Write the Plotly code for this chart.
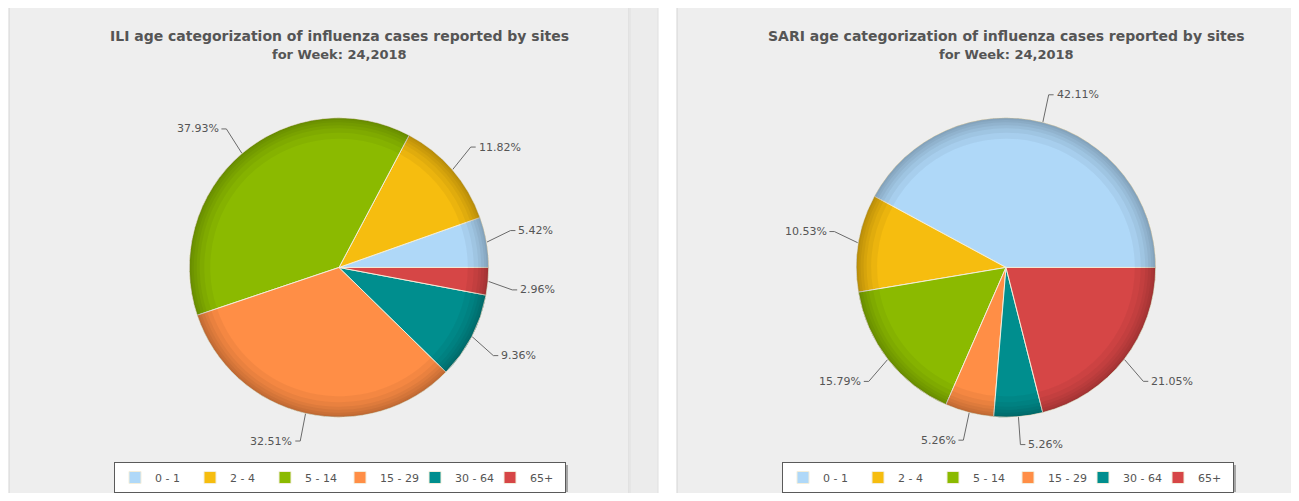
"""
Influenza age categorisation, week 24 2018: ILI and SARI pies side by side.
"""
import numpy as np
import plotly.graph_objects as go

# ---- Data ----
age_groups = ['0 - 1', '2 - 4', '5 - 14', '15 - 29', '30 - 64', '65+']
ili_share = [5.42, 11.82, 37.93, 32.51, 9.36, 2.96]
sari_share = [42.11, 10.53, 15.79, 5.26, 5.26, 21.05]
ili_title = 'ILI age categorization of influenza cases reported by sites'
sari_title = 'SARI age categorization of influenza cases reported by sites'
week_label = 'for Week: 24,2018'

# ---- Style ----
# the page body keeps an 8px margin, so the figure is that much smaller
PAGE_W, PAGE_H, BODY = 1299, 501, 8
W, H = PAGE_W - 2 * BODY, PAGE_H - 2 * BODY
COLORS = ['#AFD8F8', '#F6BD0F', '#8BBA00', '#FF8E46', '#008E8E', '#D64646']
TEXT = '#555555'
R = 150          # pie radius in px
CY = 268         # pie centre (page px from top)
AX_X, AX_Y = 1.6, 1.5   # overlay axis half ranges, in pie radii


def px_x(x):
    return (x - BODY) / W


def px_y(y):
    return 1 - (y - BODY) / H


def pie_traces(values, cx, legend, group):
    """Main pie plus a few faint dark rings that fake the bevel."""
    frac = np.asarray(values, dtype=float) / np.sum(values)
    dom = dict(x=[px_x(cx - R), px_x(cx + R)],
               y=[px_y(CY + R), px_y(CY - R)])
    # first slice starts at 3 o'clock and runs counterclockwise
    common = dict(labels=age_groups, values=values, domain=dom,
                  sort=False, direction='counterclockwise',
                  rotation=90 - 360 * frac[0], textinfo='none')
    traces = [go.Pie(marker=dict(colors=COLORS,
                                 line=dict(color='#f3eedb', width=1)),
                     hovertemplate='%{label}: %{value:.2f}%<extra></extra>',
                     legend=legend, legendgroup=group, **common)]
    for hole in [0.86, 0.9, 0.93, 0.95, 0.97, 0.985]:
        traces.append(go.Pie(marker=dict(colors=['rgba(0,0,0,0.045)'] * 6,
                                         line=dict(width=0)),
                             hole=hole, hoverinfo='skip', showlegend=False,
                             **common))
    return traces


def leader_lines(values, xref, yref):
    """Elbow connectors and percentage labels at each slice's mid angle."""
    v = np.asarray(values, dtype=float)
    frac = v / v.sum()
    mid = 2 * np.pi * (np.cumsum(frac) - frac / 2)
    xs, ys, notes = [], [], []
    for val, ang in zip(values, mid):
        c, s = np.cos(ang), np.sin(ang)
        side = 1 if c >= 0 else -1
        # labels are pushed away from the horizontal a little
        ex = c + 0.16 * c
        ey = s + 0.187 * np.sign(s) * np.sqrt(abs(s))
        end = ex + side * 0.033
        xs += [c, ex, end, None]
        ys += [s, ey, ey, None]
        notes.append(dict(x=end + side * 0.006, y=ey, xref=xref, yref=yref,
                          text='%.2f%%' % val, showarrow=False,
                          xanchor='left' if side > 0 else 'right',
                          yanchor='middle',
                          font=dict(family='DejaVu Sans', size=11,
                                    color=TEXT)))
    line = go.Scatter(x=xs, y=ys, mode='lines', xaxis=xref, yaxis=yref,
                      line=dict(color='#6a6a6a', width=1),
                      hoverinfo='skip', showlegend=False)
    return line, notes


def main():
    charts = [
        (ili_share, ili_title, 339, 'legend', 'x', 'y', 114, 'ili'),
        (sari_share, sari_title, 1006, 'legend2', 'x2', 'y2', 782, 'sari'),
    ]

    fig = go.Figure()
    annotations = []
    layout = {}
    shapes = [
        # panels and the strip between them
        dict(type='rect', xref='paper', yref='paper',
             x0=px_x(9), x1=px_x(629), y0=px_y(520), y1=px_y(7),
             fillcolor='#eeeeee', line=dict(color='#d4d4d4', width=1),
             layer='below'),
        dict(type='rect', xref='paper', yref='paper',
             x0=px_x(630), x1=px_x(658), y0=px_y(520), y1=px_y(7),
             fillcolor='#ececec', line=dict(color='#e0e0e0', width=1),
             layer='below'),
        dict(type='rect', xref='paper', yref='paper',
             x0=px_x(677), x1=px_x(1293), y0=px_y(520), y1=px_y(7),
             fillcolor='#eeeeee', line=dict(color='#d4d4d4', width=1),
             layer='below'),
    ]

    for values, title, cx, leg, xr, yr, leg_x, group in charts:
        for t in pie_traces(values, cx, leg, group):
            fig.add_trace(t)
        line, notes = leader_lines(values, xr, yr)
        fig.add_trace(line)
        annotations += notes

        axis_num = xr[1:]
        layout['xaxis' + axis_num] = dict(
            domain=[px_x(cx - AX_X * R), px_x(cx + AX_X * R)],
            range=[-AX_X, AX_X], visible=False, fixedrange=True)
        layout['yaxis' + axis_num] = dict(
            domain=[px_y(CY + AX_Y * R), px_y(CY - AX_Y * R)],
            range=[-AX_Y, AX_Y], visible=False, fixedrange=True)

        annotations.append(dict(
            x=px_x(cx), y=px_y(36), xref='paper', yref='paper',
            text='<b>%s</b>' % title, showarrow=False,
            xanchor='center', yanchor='middle',
            font=dict(family='DejaVu Sans', size=14, color=TEXT)))
        annotations.append(dict(
            x=px_x(cx), y=px_y(55), xref='paper', yref='paper',
            text='<b>%s</b>' % week_label, showarrow=False,
            xanchor='center', yanchor='middle',
            font=dict(family='DejaVu Sans', size=13, color=TEXT)))

        layout[leg] = dict(
            orientation='h', traceorder='normal',
            x=px_x(leg_x), y=px_y(463),
            xanchor='left', yanchor='top', bgcolor='white',
            bordercolor='#5a5a5a', borderwidth=1,
            font=dict(family='DejaVu Sans', size=11, color=TEXT),
            entrywidth=30, entrywidthmode='pixels',
            itemclick=False, itemdoubleclick=False)
        # drop shadow under the legend box
        shapes.append(dict(
            type='rect', xref='paper', yref='paper',
            x0=px_x(leg_x + 3), x1=px_x(leg_x + 454),
            y0=px_y(493), y1=px_y(466),
            fillcolor='rgba(0,0,0,0.3)', line=dict(width=0)))

    fig.update_layout(
        width=W, height=H,
        margin=dict(l=0, r=0, t=0, b=0),
        paper_bgcolor='white', plot_bgcolor='rgba(0,0,0,0)',
        annotations=annotations, shapes=shapes,
        **layout)
    fig.write_html('out.html')


if __name__ == '__main__':
    main()
